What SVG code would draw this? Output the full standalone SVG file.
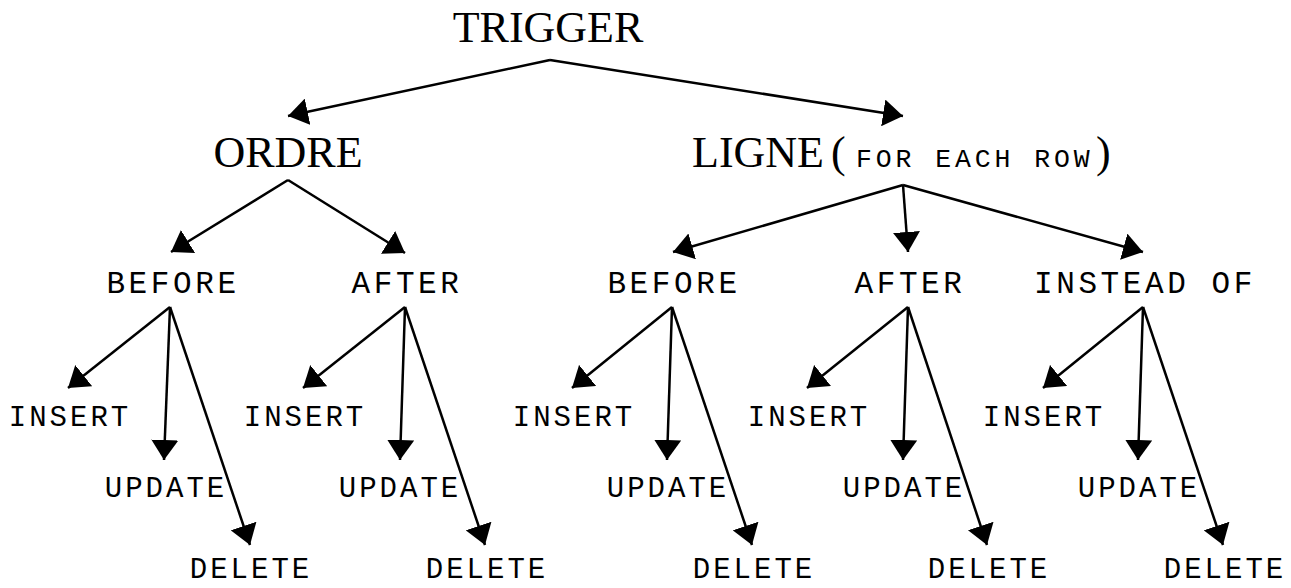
<svg xmlns="http://www.w3.org/2000/svg" width="1291" height="588" viewBox="0 0 1291 588">
  <defs>
    <marker id="ah" markerUnits="userSpaceOnUse" markerWidth="20" markerHeight="27" viewBox="-20 -13.5 20 27" refX="0" refY="0" orient="auto">
      <path d="M0,0 L-20,-13.5 L-20,13.5 z" fill="#000"/>
    </marker>
    <style>
      .root { font-family: "Liberation Serif", "Times New Roman", serif; font-size: 44px; fill: #000; }
      .mono2 { font-family: "Liberation Mono", "Courier New", monospace; font-size: 31px; letter-spacing: 3.6px; fill: #000; text-anchor: middle; }
      .mono3 { font-family: "Liberation Mono", "Courier New", monospace; font-size: 29px; letter-spacing: 3px; fill: #000; text-anchor: middle; }
      .sc { font-family: "Liberation Mono", "Courier New", monospace; font-size: 26.5px; letter-spacing: 3.9px; }
      .edge { stroke: #000; stroke-width: 2.5; fill: none; marker-end: url(#ah); }
    </style>
  </defs>
  <rect width="1291" height="588" fill="#fff"/>

  <!-- top level -->
  <g id="trigger"><text class="root" x="548" y="42" text-anchor="middle">TRIGGER</text></g>
  <g id="ordre"><text class="root" x="288" y="167" text-anchor="middle">ORDRE</text></g>
  <g id="ligne">
    <text class="root" x="692" y="167">LIGNE</text>
    <text class="root" x="831" y="167">(</text>
    <text class="sc" x="856" y="167">FOR EACH ROW</text>
    <text class="root" x="1096" y="167">)</text>
  </g>

  <!-- timing nodes -->
  <g id="ordre-before"><text class="mono2" x="173" y="293">BEFORE</text></g>
  <g id="ordre-after"><text class="mono2" x="407" y="293">AFTER</text></g>
  <g id="ligne-before"><text class="mono2" x="674" y="293">BEFORE</text></g>
  <g id="ligne-after"><text class="mono2" x="910" y="293">AFTER</text></g>
  <g id="ligne-instead"><text class="mono2" x="1145" y="293">INSTEAD OF</text></g>

  <!-- event nodes -->
  <g id="ob-insert"><text class="mono3" x="70" y="426">INSERT</text></g>
  <g id="ob-update"><text class="mono3" x="166" y="497">UPDATE</text></g>
  <g id="ob-delete"><text class="mono3" x="251" y="578">DELETE</text></g>

  <g id="oa-insert"><text class="mono3" x="305" y="426">INSERT</text></g>
  <g id="oa-update"><text class="mono3" x="400" y="497">UPDATE</text></g>
  <g id="oa-delete"><text class="mono3" x="487" y="578">DELETE</text></g>

  <g id="lb-insert"><text class="mono3" x="574" y="426">INSERT</text></g>
  <g id="lb-update"><text class="mono3" x="668" y="497">UPDATE</text></g>
  <g id="lb-delete"><text class="mono3" x="754" y="578">DELETE</text></g>

  <g id="la-insert"><text class="mono3" x="809" y="426">INSERT</text></g>
  <g id="la-update"><text class="mono3" x="904" y="497">UPDATE</text></g>
  <g id="la-delete"><text class="mono3" x="989" y="578">DELETE</text></g>

  <g id="li-insert"><text class="mono3" x="1044" y="426">INSERT</text></g>
  <g id="li-update"><text class="mono3" x="1139" y="497">UPDATE</text></g>
  <g id="li-delete"><text class="mono3" x="1225" y="578">DELETE</text></g>

  <!-- connectors -->
  <g id="connectors">
    <path class="edge" d="M550,60 L288,116"/>
    <path class="edge" d="M550,60 L903,116"/>

    <path class="edge" d="M288,180 L171,252"/>
    <path class="edge" d="M288,180 L405,253"/>

    <path class="edge" d="M903,185 L673,252"/>
    <path class="edge" d="M903,185 L908,252"/>
    <path class="edge" d="M903,185 L1143,252"/>

    <path class="edge" d="M170,307 L68,388"/>
    <path class="edge" d="M170,307 L164,460"/>
    <path class="edge" d="M170,307 L250,545"/>

    <path class="edge" d="M405,307 L303,388"/>
    <path class="edge" d="M405,307 L400,460"/>
    <path class="edge" d="M405,307 L485,545"/>

    <path class="edge" d="M672,307 L572,388"/>
    <path class="edge" d="M672,307 L667,460"/>
    <path class="edge" d="M672,307 L752,545"/>

    <path class="edge" d="M908,307 L807,388"/>
    <path class="edge" d="M908,307 L903,460"/>
    <path class="edge" d="M908,307 L987,545"/>

    <path class="edge" d="M1143,307 L1043,388"/>
    <path class="edge" d="M1143,307 L1138,460"/>
    <path class="edge" d="M1143,307 L1223,545"/>
  </g>
</svg>
